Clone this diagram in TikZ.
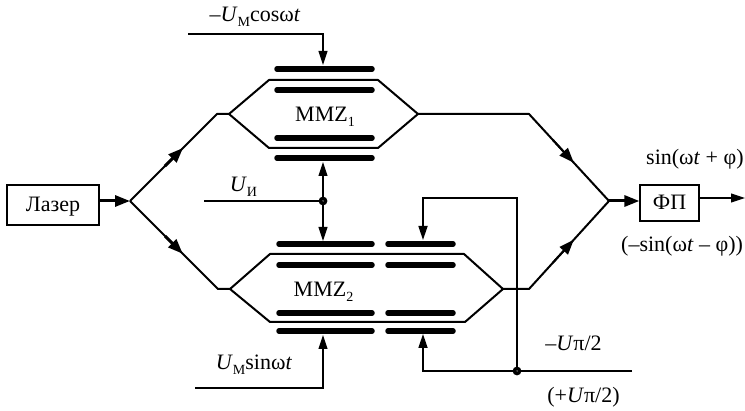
\documentclass[tikz,border=0pt]{standalone}
\usepackage{fontspec}
\setmainfont{Liberation Serif}
\usetikzlibrary{arrows.meta,calc}
\newcommand{\lowsub}[1]{\raisebox{-0.2em}{\fontsize{14}{14}\selectfont #1}}
\tikzset{
  x=1pt,y=-1pt,
  lbl/.style={font=\fontsize{22}{24}\selectfont,inner sep=0pt,anchor=base},
  boxnode/.style={draw,line width=1.2pt,inner sep=0pt,minimum height=#1},
  wave/.style={line width=2pt,line join=round},
  sig/.style={line width=1.1pt},
  bar/.style={line width=5.5pt,line cap=round},
  sigarrow/.style={sig,-{Triangle[length=14pt,width=9pt]}},
  wavearrow/.style={line width=2pt,-{Triangle[length=15pt,width=11pt]}},
  dotnode/.style={circle,fill=white,minimum size=5pt,inner sep=0pt,draw=black,line width=3.5pt}
}
\begin{document}
\begin{tikzpicture}
\useasboundingbox (0,0) rectangle (745,411);
% blocks
\node[boxnode=40pt,minimum width=92pt] (laser) at (53,205) {};
\node[lbl] (laserT) at (53,212) {Лазер};
\node[boxnode=36pt,minimum width=59pt] (fp) at (669.5,203) {};
\node[lbl] (fpT) at (669.5,210) {ФП};
% waveguide points
\coordinate (split) at (130,201);
\coordinate (ua) at (217,114);
\coordinate (ub) at (229,114);
\coordinate (ut1) at (269,80);
\coordinate (ut2) at (378,80);
\coordinate (ub1) at (269,148);
\coordinate (ub2) at (378,148);
\coordinate (uc) at (418,114);
\coordinate (ud) at (529,114);
\coordinate (join) at (609,201);
\coordinate (la) at (218,289);
\coordinate (lb) at (230,289);
\coordinate (lt1) at (270,254);
\coordinate (lt2) at (464,254);
\coordinate (lb1) at (270,322);
\coordinate (lb2) at (465,322);
\coordinate (lc) at (503,289);
\coordinate (ld) at (529,289);
% waveguides
\draw[wave] (split) -- (ua) -- (ub) -- (ut1) -- (ut2) -- (uc) -- (ub2) -- (ub1) -- (ub);
\draw[wave] (uc) -- (ud) -- (join);
\draw[wave] (split) -- (la) -- (lb) -- (lt1) -- (lt2) -- (lc) -- (lb2) -- (lb1) -- (lb);
\draw[wave] (lc) -- (ld) -- (join);
% arrows on waveguides
\draw[wavearrow,line width=3pt] (laser.east |- split) -- (split);
\draw[wavearrow,line width=3pt] (join) -- (fp.west |- join);
\draw[wavearrow,line width=3pt] ($(split)!0.40!(ua)$) -- ($(split)!0.61!(ua)$);
\draw[wavearrow,line width=3pt] ($(split)!0.40!(la)$) -- ($(split)!0.60!(la)$);
\draw[wavearrow] ($(ud)!0.30!(join)$) -- ($(ud)!0.56!(join)$);
\draw[wavearrow] ($(ld)!0.30!(join)$) -- ($(ld)!0.56!(join)$);
% electrodes
\foreach \y in {69,90,138,158} \draw[bar] (277,\y) -- (372,\y);
\foreach \y in {244,265,313,331} {
  \draw[bar] (279,\y) -- (372,\y);
  \draw[bar] (388,\y) -- (453,\y);
}
% labels inside
\node[lbl] (mz1) at (325,122) {MMZ\lowsub{1}};
\node[lbl] (mz2) at (323.5,297) {MMZ\lowsub{2}};
% signal lines
\coordinate (t0) at (188,34);
\coordinate (t1) at (323,34);
\coordinate (t2) at (323,65);
\draw[sigarrow] (t0) -- (t1) -- (t2);
\coordinate (u0) at (204,201);
\coordinate (ui0) at (323,201);
\coordinate (u1) at (323,162);
\coordinate (u2) at (323,241);
\draw[sig] (u0) -- (ui0);
\draw[sigarrow] (ui0) -- (u1);
\draw[sigarrow] (ui0) -- (u2);
\node[dotnode] (ui) at (ui0) {};
\coordinate (b0) at (195,388);
\coordinate (b1) at (323,388);
\coordinate (b2) at (323,335);
\draw[sigarrow] (b0) -- (b1) -- (b2);
\coordinate (fb0) at (517,371);
\coordinate (r0) at (632,371);
\coordinate (r1) at (423,371);
\coordinate (r2) at (423,334);
\coordinate (f1) at (517,198);
\coordinate (f2) at (423,198);
\coordinate (f3) at (423,240);
\draw[line width=1.7pt] (r0) -- (fb0);
\draw[line width=1.7pt,-{Triangle[length=14pt,width=9pt]}] (fb0) -- (r1) -- (r2);
\draw[line width=1.7pt,-{Triangle[length=14pt,width=9pt]}] (fb0) -- (f1) -- (f2) -- (f3);
\node[dotnode] (fb) at (fb0) {};
\coordinate (o1) at (745,198);
\draw[sigarrow] (fp.east |- o1) -- (o1);
% text labels
\node[lbl] (lA) at (255,22) {–\textit{U}\lowsub{М}cosω\textit{t}};
\node[lbl] (lB) at (243.5,192) {\textit{U}\lowsub{И}};
\node[lbl] (lC) at (254,370) {\textit{U}\lowsub{М}sinω\textit{t}};
\node[lbl,anchor=base west] (lD) at (646,165) {sin(ω\textit{t} + φ)};
\node[lbl,anchor=base west] (lE) at (621,252) {(–sin(ω\textit{t} – φ))};
\node[lbl] (lF) at (573.5,351) {–\textit{U}π/2};
\node[lbl] (lG) at (583.5,403) {(+\textit{U}π/2)};
\end{tikzpicture}
\end{document}
